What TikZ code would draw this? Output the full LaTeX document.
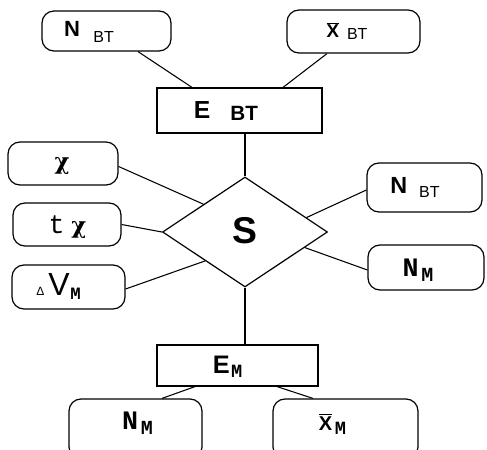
\documentclass[tikz,border=0pt]{standalone}
\usepackage{fontspec}
\setmainfont{Liberation Sans}
\newfontfamily\monofam{Liberation Mono}
\newfontfamily\chifam{DejaVu Serif}
\usetikzlibrary{shapes.geometric,calc}
\newcommand{\fs}[1]{\fontsize{#1}{#1}\selectfont}
\newcommand{\barX}[1]{\ensuremath{\overline{\hbox{\fs{#1}\bfseries X}}}}
\begin{document}
\begin{tikzpicture}[x=0.75pt,y=-0.75pt,
  rbox/.style={draw,line width=0.9pt,rounded corners=9pt,inner sep=0pt},
  sbox/.style={draw,line width=0.9pt,inner sep=0pt},
  conn/.style={line width=0.8pt},
  lbl/.style={inner sep=0pt}]
\clip (0,0) rectangle (487,450);
\fill[white] (0,0) rectangle (487,450);

% attribute and entity boxes
\node[rbox,minimum width=96.75pt,minimum height=30pt] (nbt) at (106.5,31) {};
\node[lbl] (nbtT) at (89,32) {{\fs{16.5}\bfseries N}\hspace{10pt}\raisebox{-5pt}{\fs{12}BT}};

\node[rbox,minimum width=99.75pt,minimum height=32.25pt] (xbt) at (353.5,31.5) {};
\node[lbl] (xbtT) at (347,31) {\barX{14}\hspace{6pt}\raisebox{-1.5pt}{\fs{12}BT}};

\node[sbox,minimum width=123.75pt,minimum height=33.75pt] (ebt) at (239.5,110.5) {};
\node[lbl] (ebtT) at (226,111) {{\fs{18.5}\bfseries E}\hspace{15pt}\raisebox{-1.5pt}{\fs{15.5}\bfseries BT}};

\node[rbox,minimum width=82.5pt,minimum height=32.25pt] (chi) at (63,163.5) {};
\node[lbl] (chiT) at (62,166) {\fs{17}\chifam\bfseries χ};

\node[rbox,minimum width=81pt,minimum height=32.25pt] (tchi) at (67,224.5) {};
\node[lbl] (tchiT) at (67.5,227) {{\fs{20}\monofam t}\hspace{5pt}{\fs{17}\chifam\bfseries χ}};

\node[rbox,minimum width=84.75pt,minimum height=33pt] (dv) at (68.5,287) {};
\node[lbl] (dvT) at (58.5,286) {{\fs{9}Δ}\hspace{3pt}{\fs{24}V}\hspace{0.5pt}\raisebox{-3pt}{\fs{13}\monofam\bfseries M}};

\node[draw,diamond,line width=0.9pt,inner sep=0pt,minimum width=123.75pt,minimum height=82.5pt] (s) at (245,232) {};
\node[lbl] (sT) at (245,231) {\fs{28}\bfseries S};

\node[rbox,minimum width=86.25pt,minimum height=36.75pt] (nbt2) at (424.5,187.5) {};
\node[lbl] (nbt2T) at (415,187) {{\fs{17.5}\bfseries N}\hspace{9pt}\raisebox{-3pt}{\fs{12}BT}};

\node[rbox,minimum width=87pt,minimum height=33.75pt] (nm) at (426,267.5) {};
\node[lbl] (nmT) at (418,270) {{\fs{20}\monofam\bfseries N}\hspace{2pt}\raisebox{-4pt}{\fs{15}\monofam\bfseries M}};

\node[sbox,minimum width=120.75pt,minimum height=30.75pt] (em) at (237.5,365.5) {};
\node[lbl] (emT) at (227.5,367) {{\fs{19}\bfseries E}\hspace{1pt}\raisebox{-3pt}{\fs{14}\monofam\bfseries M}};

\node[rbox,minimum width=99.75pt,minimum height=45pt] (nm2) at (135.5,429) {};
\node[lbl] (nm2T) at (137.5,423) {{\fs{20}\monofam\bfseries N}\hspace{2pt}\raisebox{-4pt}{\fs{15}\monofam\bfseries M}};

\node[rbox,minimum width=108.75pt,minimum height=45pt] (xm) at (345.5,429) {};
\node[lbl] (xmT) at (332.5,424) {\barX{15}\hspace{2pt}\raisebox{-3pt}{\fs{14}\monofam\bfseries M}};

% connectors
\draw[conn] ($(nbt.south)+(31.5,0)$) -- ($(ebt.north)+(-47.5,0)$);
\draw[conn] ($(xbt.south)+(-26.5,0)$) -- ($(ebt.north)+(43.5,0)$);
\draw[conn] (s.north) -- (s.north |- ebt.south);
\draw[conn] ($(chi.east)+(0,3)$) -- ($(s.west)!0.5!(s.north)$);
\draw[conn] (tchi.east) -- (s.west);
\draw[conn] ($(dv.east)+(0,2)$) -- ($(s.west)!0.52!(s.south)$);
\draw[conn] ($(nbt2.west)+(0,2.5)$) -- ($(s.north)!0.74!(s.east)$);
\draw[conn] ($(nm.west)+(0,2.5)$) -- ($(s.east)!0.28!(s.south)$);
\draw[conn] (s.south) -- (s.south |- em.north);
\draw[conn] ($(em.south)+(-42.5,0)$) -- ($(nm2.north)+(26.5,0)$);
\draw[conn] ($(em.south)+(39.5,0)$) -- ($(xm.north)+(-32.5,0)$);
\end{tikzpicture}
\end{document}
